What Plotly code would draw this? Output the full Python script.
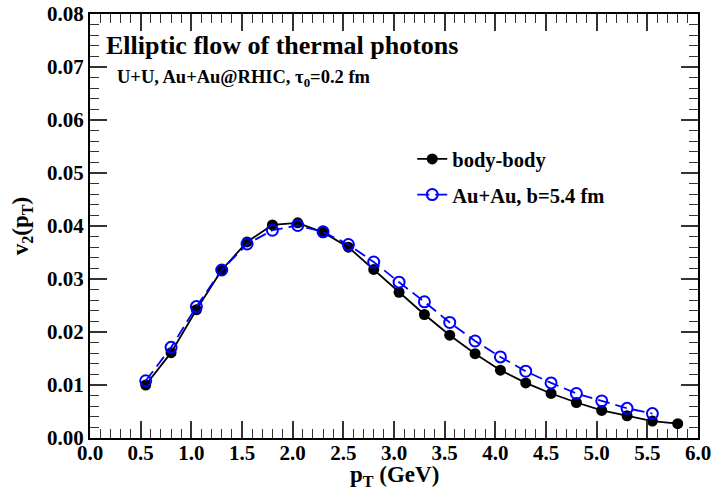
import plotly.graph_objects as go

pt_body = [0.55, 0.80, 1.05, 1.30, 1.55, 1.80, 2.05, 2.30, 2.55, 2.80, 3.05,
           3.30, 3.55, 3.80, 4.05, 4.30, 4.55, 4.80, 5.05, 5.30, 5.55, 5.80]
v2_body = [0.0100, 0.0161, 0.0242, 0.0317, 0.0370, 0.0402, 0.0406, 0.0388, 0.0360, 0.0318, 0.0275,
           0.0233, 0.0194, 0.0159, 0.0128, 0.0104, 0.0084, 0.0067, 0.0052, 0.0042, 0.0032, 0.0027]

pt_auau = [0.55, 0.80, 1.05, 1.30, 1.55, 1.80, 2.05, 2.30, 2.55, 2.80, 3.05,
           3.30, 3.55, 3.80, 4.05, 4.30, 4.55, 4.80, 5.05, 5.30, 5.55]
v2_auau = [0.0108, 0.0171, 0.0248, 0.0317, 0.0366, 0.0392, 0.0401, 0.0389, 0.0365, 0.0332, 0.0294,
           0.0257, 0.0218, 0.0183, 0.0153, 0.0126, 0.0104, 0.0084, 0.0070, 0.0056, 0.0046]

FONT = "Liberation Serif"

fig = go.Figure()
fig.add_trace(go.Scatter(
    x=pt_body, y=v2_body, mode="lines+markers", name="body-body", legendgroup="a",
    line=dict(color="black", width=1.8),
    marker=dict(symbol="circle", size=11, color="black"),
))
fig.add_trace(go.Scatter(
    x=pt_auau, y=v2_auau, mode="lines+markers", name="Au+Au, b=5.4 fm", legendgroup="b",
    line=dict(color="#0000ff", width=1.8, dash="12px,6px"),
    marker=dict(symbol="circle-open", size=11, color="#0000ff", line=dict(width=2)),
))

axis_common = dict(
    showline=True, linecolor="black", linewidth=2, mirror="allticks",
    ticks="inside", tickcolor="#333333", tickwidth=1.5, ticklen=17,
    showgrid=False, zeroline=False, automargin=False,
    tickfont=dict(family=FONT, size=21, color="black", weight="bold"),
)

fig.update_xaxes(
    range=[0, 6], tick0=0, dtick=0.5, tickformat=".1f",
    minor=dict(ticks="inside", ticklen=9, tickwidth=1.3, tickcolor="#333333", dtick=0.1),
    ticklabelstandoff=-5,
    **axis_common,
)
fig.update_yaxes(
    range=[0, 0.08], tick0=0, dtick=0.01, tickformat=".2f",
    minor=dict(ticks="inside", ticklen=9, tickwidth=1.3, tickcolor="#333333", dtick=0.002),
    title=dict(text="v<sub>2</sub>(p<sub>T</sub>)", font=dict(family=FONT, size=23, color="black", weight="bold"), standoff=12),
    **axis_common,
)

fig.add_annotation(
    x=0.5, y=-0.09, xref="paper", yref="paper", xanchor="center", yanchor="middle",
    text="p<sub>T</sub> (GeV)", showarrow=False,
    font=dict(family=FONT, size=23, color="black", weight="bold"),
)
fig.add_annotation(
    x=0.023, y=0.925, xref="paper", yref="paper", xanchor="left", yanchor="middle",
    text="Elliptic flow of thermal photons", showarrow=False,
    font=dict(family=FONT, size=26, color="black", weight="bold"),
)
fig.add_annotation(
    x=0.041, y=0.849, xref="paper", yref="paper", xanchor="left", yanchor="middle",
    text="U+U, Au+Au@RHIC, τ<sub>0</sub>=0.2 fm", showarrow=False,
    font=dict(family=FONT, size=18.5, color="black", weight="bold"),
)

fig.update_layout(
    width=712, height=496,
    margin=dict(l=90, r=14, t=14, b=58),
    paper_bgcolor="white", plot_bgcolor="white",
    showlegend=True,
    legend=dict(
        x=0.53, y=0.705, xanchor="left", yanchor="top",
        bgcolor="rgba(0,0,0,0)", borderwidth=0,
        font=dict(family=FONT, size=20.5, color="black", weight="bold"),
        traceorder="grouped", tracegroupgap=6, itemwidth=30,
    ),
)

fig.write_html("out.html", config={"displayModeBar": False},
               post_script="document.body.style.margin='0';")
